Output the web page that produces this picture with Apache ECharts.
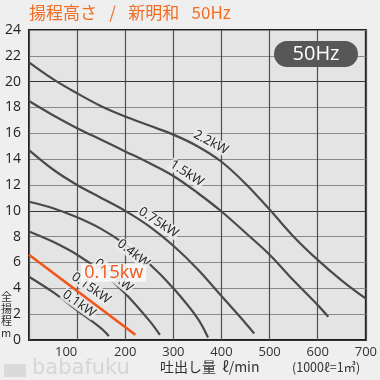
<!DOCTYPE html>
<html><head><meta charset="utf-8">
<script src="https://cdn.jsdelivr.net/npm/echarts@6/dist/echarts.min.js"></script>
<style>html,body{margin:0;padding:0;background:#efefef}#c{width:380px;height:380px}</style>
</head><body><div id="c"></div>
<script>
// ---- data (flow ℓ/min, head m) ----
const xTicks = [0,100,200,300,400,500,600,700];
const yTicks = [0,2,4,6,8,10,12,14,16,18,20,22,24];

const flow22 = [0,50,100,150,200,250,300,350,400,450,500,550,600,650,700];
const head22 = [21.5,20.2,19.1,18.1,17.3,16.6,15.9,15.0,13.8,12.1,10.1,8.0,6.2,4.6,3.2];

const flow15 = [0,50,100,150,200,250,300,350,400,450,500,550,600,622];
const head15 = [18.5,17.4,16.4,15.5,14.6,13.7,12.7,11.4,9.95,8.3,6.6,4.6,2.7,1.8];

const flow075 = [0,50,100,150,200,250,300,350,400,450,468];
const head075 = [14.7,13.2,12.0,11.0,10.0,8.8,7.3,5.5,3.4,1.3,0.5];

const flow04 = [0,50,100,150,200,250,300,350,372];
const head04 = [10.7,10.2,9.5,8.6,7.4,5.9,4.0,1.7,0.2];

const flow025 = [0,50,100,150,200,250,272];
const head025 = [8.4,7.6,6.6,5.3,3.6,1.5,0.4];

const flow01 = [0,50,100,150,166];
const head01 = [4.9,3.7,2.3,0.9,0.3];

const flowSel = [0,221];
const headSel = [6.6,0.4];

const curveNames = ['2.2kW','1.5kW','0.75kW','0.4kW','0.25kW','0.1kW'];
// label anchors (flow, head) and angle (deg)
const labelFlow = [378,328,269,217,176,129,104];
const labelHead = [15.3,12.9,9.1,6.7,5.0,4.0,2.8];
const labelText = ['2.2kW','1.5kW','0.75kW','0.4kW','0.25kW','0.15kW','0.1kW'];
const labelAngle = [28,33,33,38,38,35,35];

const zip = (a,b)=>a.map((v,i)=>[v,b[i]]);
const grayData = [zip(flow22,head22),zip(flow15,head15),zip(flow075,head075),zip(flow04,head04),zip(flow025,head025),zip(flow01,head01)];

const chart = echarts.init(document.getElementById('c'));
const series = grayData.map((d,i)=>({
  name: curveNames[i], type:'line', data:d, smooth:0.35, symbol:'none',
  lineStyle:{color:'#4a4a4a', width:2.2}, z:3
}));
series.push({name:'0.15kw', type:'line', data:zip(flowSel,headSel), symbol:'none',
  lineStyle:{color:'#f0561a', width:2.6}, z:5});

chart.setOption({
  animation:false,
  backgroundColor:'#efefef',
  grid:{left:29, right:12, top:30, bottom:40, show:true, backgroundColor:'#e4e4e4', borderColor:'#1e1e1e', borderWidth:2},
  xAxis:{type:'value', min:0, max:700, interval:100,
    axisLine:{show:false}, axisTick:{show:false},
    splitLine:{show:true, lineStyle:{color:'#505050', width:1.2}},
    axisLabel:{color:'#333', fontSize:13, fontFamily:'Open Sans', margin:6,
      formatter:v=> v===0 ? '' : (v===100 ? '{a|100}' : String(v)),
      rich:{a:{fontSize:13, fontFamily:'Open Sans', color:'#333', padding:[0,22,0,0]}}}
  },
  yAxis:{type:'value', min:0, max:24, interval:2,
    axisLine:{show:false}, axisTick:{show:false},
    splitLine:{show:true, lineStyle:{color:['#333','#8a8a8a','#8a8a8a','#8a8a8a','#8a8a8a'], width:1.2}},
    axisLabel:{color:'#222', fontSize:14, fontFamily:'Open Sans', margin:8, padding:[5,0,0,0]}
  },
  series
});

const g = [];
// curve labels
labelText.forEach((t,i)=>{
  const p = chart.convertToPixel({gridIndex:0}, [labelFlow[i], labelHead[i]]);
  g.push({type:'text', x:p[0], y:p[1], rotation:-labelAngle[i]*Math.PI/180, z:10,
    style:{text:t, fill:'#222', font:'13px "Open Sans"', align:'center', verticalAlign:'middle',
      backgroundColor:'rgba(236,236,236,0.85)', padding:[0,1]}});
});
// selected label
const ps = chart.convertToPixel({gridIndex:0}, [176,5.2]);
g.push({type:'text', x:ps[0], y:ps[1], z:20,
  style:{text:'0.15kw', fill:'#f0561a', font:'18px "Open Sans"', align:'center', verticalAlign:'middle',
    backgroundColor:'rgba(250,250,250,0.85)', padding:[0,3]}});
// 50Hz badge
g.push({type:'rect', left:274, top:41, z:20, shape:{width:84, height:26, r:13}, style:{fill:'#575757'}});
g.push({type:'text', x:316, y:54, z:21, style:{text:'50Hz', fill:'#fff', font:'20px "Open Sans"', align:'center', verticalAlign:'middle'}});
// title
g.push({type:'text', left:29, top:4, style:{text:'揚程高さ\u2002 /\u2002 新明和\u2002 50Hz', fill:'#f26c21', font:'17px "Noto Sans CJK JP"'}});
// axis names
g.push({type:'text', left:160, top:360, style:{text:'吐出し量  ℓ/min', fill:'#333', font:'14px "Noto Sans CJK JP"'}});
g.push({type:'text', left:292, top:361, style:{text:'(1000ℓ=1㎥)', fill:'#333', font:'12.5px "Noto Sans CJK JP"'}});
g.push({type:'text', left:1, top:291, style:{text:'全\n揚\n程\nm', fill:'#333', font:'11px "Noto Sans CJK JP"', lineHeight:12}});
// watermark
g.push({type:'rect', left:4, top:364, shape:{width:22, height:13}, style:{fill:'#dadada'}});
g.push({type:'text', left:32, top:358, style:{text:'babafuku', fill:'#d6d6d6', font:'21px "DejaVu Sans"'}});
chart.setOption({graphic:g});
</script></body></html>
